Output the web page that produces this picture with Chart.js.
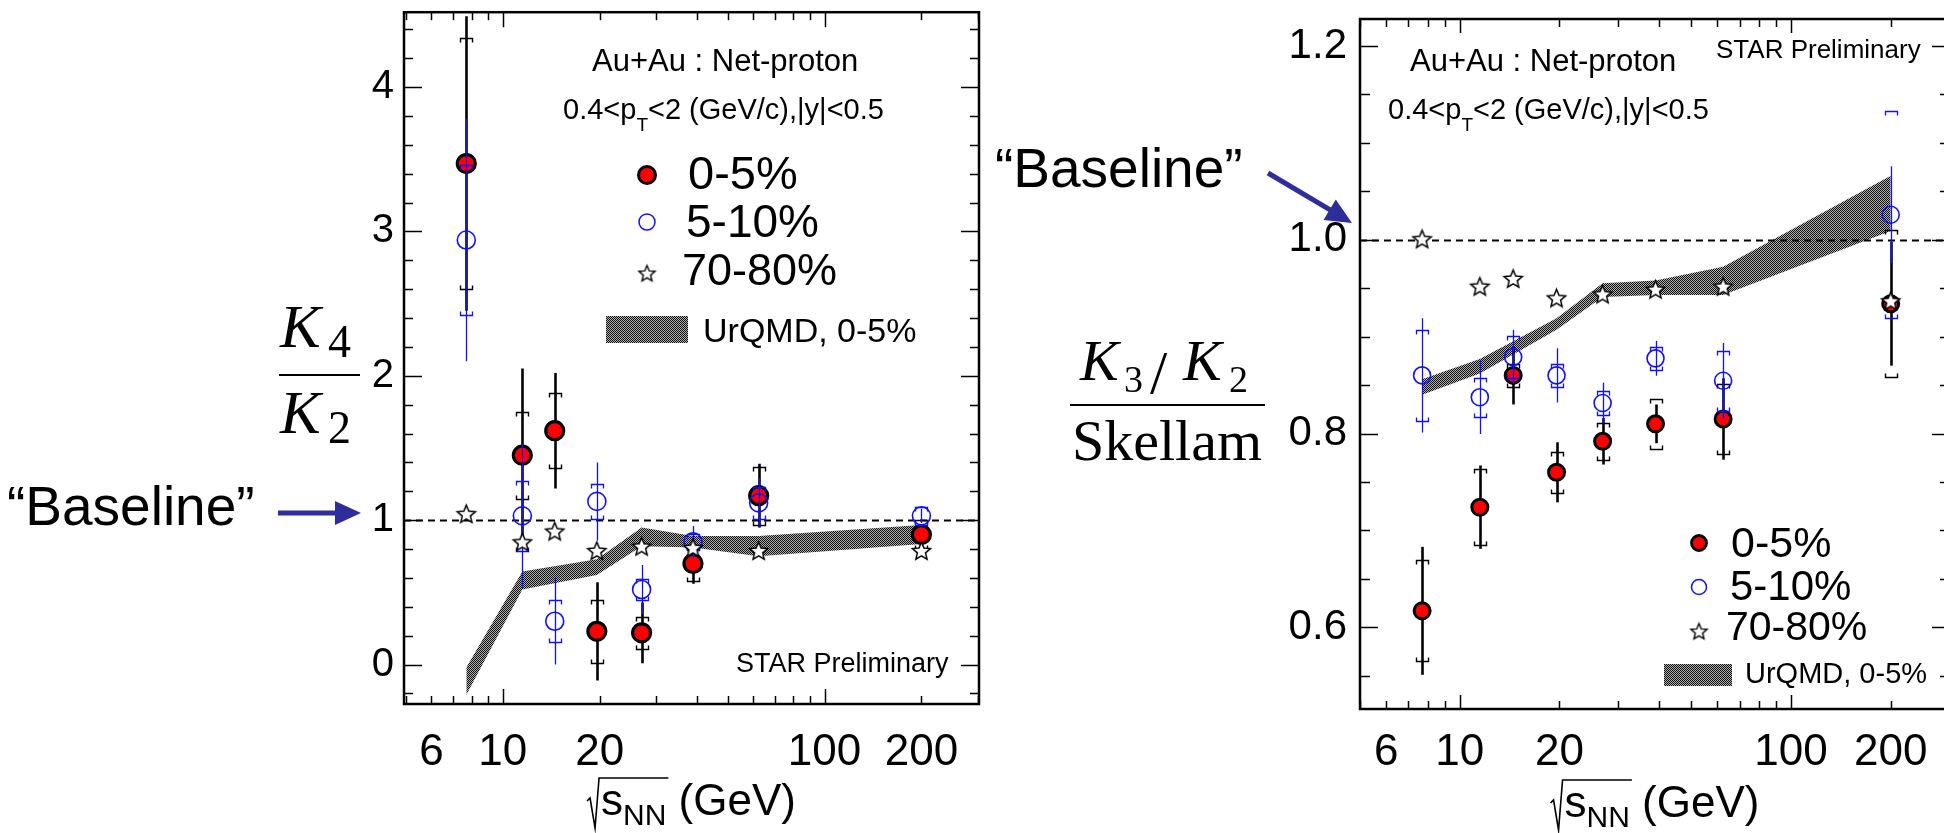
<!DOCTYPE html>
<html><head><meta charset="utf-8">
<script src="https://cdn.jsdelivr.net/npm/chart.js@4.4.1/dist/chart.umd.min.js"></script>
<style>
html,body{margin:0;padding:0;background:#fff;overflow:hidden;width:1944px;height:833px;position:relative;}
canvas{position:absolute;top:0;}
#c1{left:0;width:1000px;height:833px;}
#c2{left:960px;width:1010px;height:833px;}
</style></head><body>
<canvas id="c1" width="1000" height="833"></canvas>
<canvas id="c2" width="1010" height="833"></canvas>
<script>
// ---------------- data ----------------
const energies = [7.7, 11.5, 14.5, 19.6, 27, 39, 62.4, 200];
const xTickLabels = [6, 10, 20, 100, 200];

// K4/K2 panel
const k4Ticks = [0, 1, 2, 3, 4];
const k4C05 = [3.47, 1.45, 1.62, 0.23, 0.22, 0.70, 1.17, 0.90];
const k4C05Stat = [1.02, 0.60, 0.40, 0.34, 0.21, 0.14, 0.22, 0.07];
const k4C05Sys = [0.87, 0.30, 0.26, 0.22, 0.11, 0.12, 0.20, 0.10];
const k4C510 = [2.94, 1.03, 0.30, 1.13, 0.52, 0.85, 1.12, 1.03];
const k4C510Stat = [0.84, 0.50, 0.30, 0.27, 0.17, 0.11, 0.17, 0.05];
const k4C510Sys = [0.52, 0.24, 0.145, 0.12, 0.075, 0.055, 0.11, 0.06];
const k4C7080 = [1.045, 0.85, 0.925, 0.79, 0.82, 0.81, 0.79, 0.79];
const urqmdEnergies = [7.7, 11.5, 19.6, 27, 39, 62.4, 200];
const k4UrqmdLow = [-0.21, 0.52, 0.62, 0.82, 0.81, 0.75, 0.835];
const k4UrqmdHigh = [-0.02, 0.645, 0.73, 0.95, 0.89, 0.89, 0.967];

// K3/K2/Skellam panel
const k3Ticks = [0.6, 0.8, 1.0, 1.2];
const k3C05 = [0.617, 0.724, 0.860, 0.760, 0.792, 0.810, 0.815, 0.934];
const k3C05Stat = [0.066, 0.043, 0.03, 0.031, 0.024, 0.02, 0.042, 0.064];
const k3C05Sys = [0.052, 0.039, 0.012, 0.021, 0.019, 0.026, 0.036, 0.076];
const k3C510 = [0.860, 0.8375, 0.879, 0.860, 0.8315, 0.8776, 0.8545, 1.0258];
const k3C510Stat = [0.059, 0.038, 0.028, 0.028, 0.021, 0.018, 0.039, 0.05];
const k3C510Sys = [0.047, 0.02, 0.022, 0.012, 0.012, 0.012, 0.031, 0.107];
const k3C7080 = [1.001, 0.952, 0.960, 0.940, 0.944, 0.949, 0.952, 0.937];
const k3UrqmdLow = [0.840, 0.862, 0.907, 0.941, 0.943, 0.943, 1.009];
const k3UrqmdHigh = [0.856, 0.877, 0.919, 0.955, 0.958, 0.972, 1.066];

const baselineValue = 1;

// ---------------- styling helpers ----------------
const SANS = '"Liberation Sans", Arial, Helvetica, sans-serif';
const SERIF = '"Liberation Serif", "Times New Roman", serif';
Chart.defaults.font.family = SANS;
Chart.defaults.color = '#000';
const RED = '#ff0000', BLUE = '#1010ff', ARROW = '#2d2d9c';

function makeStar(r, lw) {
  const s = Math.ceil(r * 2 + 4);
  const c = document.createElement('canvas');
  c.width = s; c.height = s;
  const g = c.getContext('2d');
  g.beginPath();
  for (let k = 0; k < 10; k++) {
    const ang = -Math.PI / 2 + k * Math.PI / 5;
    const rr = k % 2 === 0 ? r : r * 0.45;
    const px = s / 2 + rr * Math.cos(ang), py = s / 2 + 1 + rr * Math.sin(ang);
    if (k === 0) g.moveTo(px, py); else g.lineTo(px, py);
  }
  g.closePath();
  g.fillStyle = '#fff'; g.fill();
  g.lineWidth = lw; g.strokeStyle = '#000'; g.stroke();
  return c;
}
function makePattern() {
  const c = document.createElement('canvas');
  c.width = 2; c.height = 2;
  const g = c.getContext('2d');
  g.fillStyle = '#b0b0b0'; g.fillRect(0, 0, 2, 2);
  g.fillStyle = '#101010'; g.fillRect(0, 0, 1, 1); g.fillRect(1, 1, 1, 1);
  return g.createPattern(c, 'repeat');
}
const starImg = makeStar(9.5, 1.5);
const starImgSmall = makeStar(8.5, 1.4);
const bandPattern = makePattern();

// ---------------- plugins ----------------
const errorBars = {
  id: 'errorBars',
  beforeDatasetDraw(chart, args) {
    const ds = chart.data.datasets[args.index];
    if (!ds.errStat && !ds.errSys) return;
    const ctx = chart.ctx, a = chart.chartArea, xs = chart.scales.x, ys = chart.scales.y;
    ctx.save();
    ctx.beginPath(); ctx.rect(a.left, a.top, a.right - a.left, a.bottom - a.top); ctx.clip();
    ctx.strokeStyle = ds.errColor;
    ds.data.forEach((p, i) => {
      const px = Math.round(xs.getPixelForValue(p.x)) + 0.5;
      const e = ds.errStat[i];
      ctx.lineWidth = ds.errWidth;
      ctx.beginPath();
      ctx.moveTo(px, ys.getPixelForValue(p.y + e));
      ctx.lineTo(px, ys.getPixelForValue(p.y - e));
      ctx.stroke();
      const s = ds.errSys[i];
      const yt = Math.round(ys.getPixelForValue(p.y + s)) + 0.5;
      const yb = Math.round(ys.getPixelForValue(p.y - s)) + 0.5;
      ctx.lineWidth = ds.capWidth;
      ctx.beginPath();
      ctx.moveTo(px - 6, yt + 4); ctx.lineTo(px - 6, yt); ctx.lineTo(px + 6, yt); ctx.lineTo(px + 6, yt + 4);
      ctx.moveTo(px - 6, yb - 4); ctx.lineTo(px - 6, yb); ctx.lineTo(px + 6, yb); ctx.lineTo(px + 6, yb - 4);
      ctx.stroke();
    });
    ctx.restore();
  },
  afterDatasetDraw(chart, args) {
    const ds = chart.data.datasets[args.index];
    if (!ds.bandTop) return;
    const ctx = chart.ctx, a = chart.chartArea;
    const py = Math.round(chart.scales.y.getPixelForValue(baselineValue)) + 0.5;
    ctx.save();
    ctx.strokeStyle = '#000'; ctx.lineWidth = 2.2; ctx.setLineDash([7, 5]);
    ctx.beginPath(); ctx.moveTo(a.left, py); ctx.lineTo(a.right, py); ctx.stroke();
    ctx.restore();
  }
};

function makeFrame(o) {
  return {
    id: 'frameTicks',
    afterDatasetsDraw(chart) {
      const ctx = chart.ctx, a = chart.chartArea, x = chart.scales.x, y = chart.scales.y;
      ctx.save();
      ctx.strokeStyle = '#000'; ctx.lineWidth = 1.5;
      const ln = (x1, y1, x2, y2) => { ctx.beginPath(); ctx.moveTo(x1, y1); ctx.lineTo(x2, y2); ctx.stroke(); };
      const k0 = Math.ceil((y.min - 1e-9) / o.yMinorStep);
      for (let k = k0; k * o.yMinorStep <= y.max + 1e-9; k++) {
        const v = k * o.yMinorStep;
        const r = v / o.yMajorStep;
        const maj = Math.abs(r - Math.round(r)) < 1e-6;
        const len = maj ? o.yMajorLen : o.yMinorLen;
        const py = Math.round(y.getPixelForValue(v)) + 0.5;
        ln(a.left, py, a.left + len, py);
        ln(a.right, py, a.right - len, py);
      }
      for (let d = Math.floor(Math.log10(x.min)); d <= Math.ceil(Math.log10(x.max)); d++) {
        for (let m = 1; m <= 9; m++) {
          const v = m * Math.pow(10, d);
          if (v < x.min || v > x.max) continue;
          const len = m === 1 ? o.xMajorLen : o.xMinorLen;
          const px = Math.round(x.getPixelForValue(v)) + 0.5;
          ln(px, a.bottom, px, a.bottom - len);
          ln(px, a.top, px, a.top + len);
        }
      }
      ctx.lineWidth = 2.5;
      ctx.strokeRect(a.left, a.top, a.right - a.left, a.bottom - a.top);
      ctx.restore();
    }
  };
}

function drawArrow(ctx, x1, y1, x2, y2, w, head, hw) {
  const dx = x2 - x1, dy = y2 - y1, L = Math.hypot(dx, dy), ux = dx / L, uy = dy / L;
  const bx = x2 - ux * head, by = y2 - uy * head;
  ctx.save();
  ctx.strokeStyle = ARROW; ctx.fillStyle = ARROW; ctx.lineWidth = w;
  ctx.beginPath(); ctx.moveTo(x1, y1); ctx.lineTo(bx + ux * 2, by + uy * 2); ctx.stroke();
  ctx.beginPath(); ctx.moveTo(x2, y2);
  ctx.lineTo(bx - uy * hw, by + ux * hw); ctx.lineTo(bx + uy * hw, by - ux * hw);
  ctx.closePath(); ctx.fill();
  ctx.restore();
}

function drawXTitle(ctx, cx, by) {
  const f1 = '44px ' + SANS, f2 = '30px ' + SANS;
  ctx.font = f1; const ws = ctx.measureText('s').width; const wg = ctx.measureText(' (GeV)').width;
  ctx.font = f2; const wn = ctx.measureText('NN').width;
  const rw = 14, total = rw + ws + wn + wg;
  const x0 = cx - total / 2;
  ctx.save();
  ctx.strokeStyle = '#000'; ctx.lineWidth = 1.6;
  ctx.beginPath();
  ctx.moveTo(x0, by - 14); ctx.lineTo(x0 + 3, by - 17); ctx.lineTo(x0 + 8, by + 13);
  ctx.lineTo(x0 + 12, by - 37); ctx.lineTo(x0 + rw + ws + wn + 2, by - 37);
  ctx.stroke();
  ctx.restore();
  ctx.font = f1; ctx.fillText('s', x0 + rw, by);
  ctx.font = f2; ctx.fillText('NN', x0 + rw + ws, by + 10);
  ctx.font = f1; ctx.fillText(' (GeV)', x0 + rw + ws + wn, by);
}

function makeAnnot(offsetX, ops) {
  return {
    id: 'annot',
    afterDraw(chart) {
      const ctx = chart.ctx;
      ctx.save();
      ctx.translate(-offsetX, 0);
      ctx.fillStyle = '#000'; ctx.textBaseline = 'alphabetic'; ctx.textAlign = 'left';
      for (const op of ops) {
        if (op.k === 'text') {
          ctx.font = (op.style || '') + ' ' + op.size + 'px ' + (op.serif ? SERIF : SANS);
          ctx.fillText(op.t, op.x, op.y);
        } else if (op.k === 'segs') {
          let x = op.x;
          for (const [t, size, dy] of op.segs) {
            ctx.font = size + 'px ' + SANS;
            ctx.fillText(t, x, op.y + dy);
            x += ctx.measureText(t).width;
          }
        } else if (op.k === 'line') {
          ctx.save(); ctx.strokeStyle = '#000'; ctx.lineWidth = op.w;
          ctx.beginPath(); ctx.moveTo(op.x1, op.y); ctx.lineTo(op.x2, op.y); ctx.stroke(); ctx.restore();
        } else if (op.k === 'red') {
          ctx.save(); ctx.beginPath(); ctx.arc(op.x, op.y, op.r, 0, Math.PI * 2);
          ctx.fillStyle = RED; ctx.fill(); ctx.lineWidth = op.bw; ctx.strokeStyle = '#000'; ctx.stroke(); ctx.restore();
        } else if (op.k === 'blue') {
          ctx.save(); ctx.beginPath(); ctx.arc(op.x, op.y, op.r, 0, Math.PI * 2);
          ctx.lineWidth = 1.5; ctx.strokeStyle = BLUE; ctx.stroke(); ctx.restore();
        } else if (op.k === 'star') {
          const img = op.small ? starImgSmall : starImg;
          ctx.drawImage(img, op.x - img.width / 2, op.y - img.height / 2);
        } else if (op.k === 'swatch') {
          ctx.save(); ctx.fillStyle = bandPattern; ctx.fillRect(op.x, op.y, op.w, op.h); ctx.restore();
        } else if (op.k === 'arrow') {
          drawArrow(ctx, op.x1, op.y1, op.x2, op.y2, op.w, op.head, op.hw);
        } else if (op.k === 'xtitle') {
          drawXTitle(ctx, op.cx, op.y);
        }
      }
      ctx.restore();
    }
  };
}

// ---------------- chart builder ----------------
function pts(xs, ys) { return xs.map((x, i) => ({ x: x, y: ys[i] })); }
function noPad(s) { s.paddingTop = 0; s.paddingBottom = 0; s.paddingLeft = 0; s.paddingRight = 0; }

function buildChart(id, p) {
  return new Chart(document.getElementById(id), {
    type: 'line',
    data: {
      datasets: [
        { label: 'UrQMD low', data: pts(urqmdEnergies, p.bandLow), pointRadius: 0, borderWidth: 0,
          borderColor: 'rgba(0,0,0,0)', fill: false, tension: 0, order: 20 },
        { label: 'UrQMD, 0-5%', data: pts(urqmdEnergies, p.bandHigh), pointRadius: 0, borderWidth: 0,
          borderColor: 'rgba(0,0,0,0)', fill: '-1', backgroundColor: bandPattern, tension: 0, order: 19, bandTop: true },
        { label: '0-5%', data: pts(energies, p.c05), showLine: false, pointStyle: 'circle',
          pointRadius: p.redR, pointBackgroundColor: RED, pointBorderColor: '#000', pointBorderWidth: p.redBW,
          errStat: p.c05Stat, errSys: p.c05Sys, errColor: '#000', errWidth: 2.6, capWidth: 1.4, order: 3 },
        { label: '5-10%', data: pts(energies, p.c510), showLine: false, pointStyle: 'circle',
          pointRadius: p.blueR, pointBackgroundColor: 'rgba(0,0,0,0)', pointBorderColor: BLUE, pointBorderWidth: 1.6,
          errStat: p.c510Stat, errSys: p.c510Sys, errColor: BLUE, errWidth: 1.3, capWidth: 1.3, order: 2 },
        { label: '70-80%', data: pts(energies, p.c7080), showLine: false, pointStyle: starImg,
          pointRadius: 9, order: 1 }
      ]
    },
    options: {
      responsive: false, animation: false, devicePixelRatio: 1, events: [],
      layout: { padding: { left: 0, right: p.padRight, top: p.padTop, bottom: 0 } },
      plugins: { legend: { display: false }, tooltip: { enabled: false } },
      scales: {
        x: {
          type: 'logarithmic', min: p.xMin, max: p.xMax, bounds: 'data',
          grid: { display: false, drawTicks: false }, border: { display: false },
          afterBuildTicks: s => { s.ticks = xTickLabels.map(v => ({ value: v })); },
          afterFit: s => { s.height = p.xAxisH; noPad(s); },
          ticks: { autoSkip: false, maxRotation: 0, minRotation: 0, padding: p.xPad, color: '#000',
                   font: { size: 44, family: SANS }, callback: v => String(v) }
        },
        y: {
          type: 'linear', min: p.yMin, max: p.yMax, bounds: 'data',
          grid: { display: false, drawTicks: false }, border: { display: false },
          afterBuildTicks: s => { s.ticks = p.yTicks.map(v => ({ value: v })); },
          afterFit: s => { s.width = p.yAxisW; noPad(s); },
          ticks: { padding: p.yPad, color: '#000', font: { size: p.yFont, family: SANS }, callback: p.yFmt }
        }
      }
    },
    plugins: [errorBars, makeFrame(p.frame), makeAnnot(p.offsetX, p.ops)]
  });
}

// ---------------- left panel ----------------
buildChart('c1', {
  bandLow: k4UrqmdLow, bandHigh: k4UrqmdHigh,
  c05: k4C05, c05Stat: k4C05Stat, c05Sys: k4C05Sys,
  c510: k4C510, c510Stat: k4C510Stat, c510Sys: k4C510Sys,
  c7080: k4C7080, redR: 9, redBW: 3.2, blueR: 9,
  xMin: 4.93, xMax: 302, yMin: -0.273, yMax: 4.518, yTicks: k4Ticks,
  yFmt: v => String(v), yFont: 40, yPad: 10, xPad: 22,
  padRight: 21, padTop: 12, xAxisH: 129, yAxisW: 404,
  frame: { yMinorStep: 0.2, yMajorStep: 1, yMajorLen: 18, yMinorLen: 9, xMajorLen: 15, xMinorLen: 8 },
  offsetX: 0,
  ops: [
    { k: 'text', t: 'Au+Au : Net-proton', x: 592, y: 71, size: 31 },
    { k: 'segs', x: 563, y: 119, segs: [['0.4<p', 29, 0], ['T', 19, 12], ['<2 (GeV/c),|y|<0.5', 29, 0]] },
    { k: 'red', x: 647, y: 175, r: 8.5, bw: 3 },
    { k: 'text', t: '0-5%', x: 688, y: 189, size: 47 },
    { k: 'blue', x: 647, y: 222, r: 8 },
    { k: 'text', t: '5-10%', x: 686, y: 237, size: 46 },
    { k: 'star', x: 647, y: 273, small: true },
    { k: 'text', t: '70-80%', x: 682, y: 285, size: 45 },
    { k: 'swatch', x: 606, y: 316, w: 82, h: 27 },
    { k: 'text', t: 'UrQMD, 0-5%', x: 703, y: 342, size: 34 },
    { k: 'text', t: 'STAR Preliminary', x: 736, y: 672, size: 27 },
    // y title K4/K2
    { k: 'text', t: 'K', x: 280, y: 347, size: 61, serif: true, style: 'italic' },
    { k: 'text', t: '4', x: 328, y: 357, size: 46, serif: true },
    { k: 'line', x1: 279, x2: 360, y: 375, w: 2.2 },
    { k: 'text', t: 'K', x: 280, y: 433, size: 61, serif: true, style: 'italic' },
    { k: 'text', t: '2', x: 328, y: 443, size: 46, serif: true },
    // baseline label + arrow
    { k: 'text', t: '\u201CBaseline\u201D', x: 7, y: 525, size: 55 },
    { k: 'arrow', x1: 278, y1: 513, x2: 361, y2: 513, w: 5, head: 26, hw: 12 },
    { k: 'xtitle', cx: 691.5, y: 815 }
  ]
});

// ---------------- right panel ----------------
buildChart('c2', {
  bandLow: k3UrqmdLow, bandHigh: k3UrqmdHigh,
  c05: k3C05, c05Stat: k3C05Stat, c05Sys: k3C05Sys,
  c510: k3C510, c510Stat: k3C510Stat, c510Sys: k3C510Sys,
  c7080: k3C7080, redR: 8, redBW: 3, blueR: 8.5,
  xMin: 5.0, xMax: 302, yMin: 0.5157, yMax: 1.2278, yTicks: k3Ticks,
  yFmt: v => v.toFixed(1), yFont: 42, yPad: 13, xPad: 17,
  padRight: 20, padTop: 19, xAxisH: 124, yAxisW: 400,
  frame: { yMinorStep: 0.05, yMajorStep: 0.2, yMajorLen: 18, yMinorLen: 10, xMajorLen: 14, xMinorLen: 8 },
  offsetX: 960,
  ops: [
    { k: 'text', t: 'Au+Au : Net-proton', x: 1410, y: 71, size: 31 },
    { k: 'segs', x: 1388, y: 119, segs: [['0.4<p', 29, 0], ['T', 19, 12], ['<2 (GeV/c),|y|<0.5', 29, 0]] },
    { k: 'text', t: 'STAR Preliminary', x: 1716, y: 58, size: 26 },
    { k: 'red', x: 1699, y: 543, r: 7.5, bw: 2.8 },
    { k: 'text', t: '0-5%', x: 1731, y: 557, size: 43 },
    { k: 'blue', x: 1699, y: 587, r: 7.5 },
    { k: 'text', t: '5-10%', x: 1730, y: 600, size: 42 },
    { k: 'star', x: 1699, y: 631, small: true },
    { k: 'text', t: '70-80%', x: 1726, y: 640, size: 41 },
    { k: 'swatch', x: 1664, y: 664, w: 68, h: 22 },
    { k: 'text', t: 'UrQMD, 0-5%', x: 1745, y: 683, size: 29 },
    // y title K3/K2 / Skellam
    { k: 'text', t: 'K', x: 1080, y: 380, size: 58, serif: true, style: 'italic' },
    { k: 'text', t: '3', x: 1124, y: 392, size: 38, serif: true },
    { k: 'text', t: '/', x: 1150, y: 393, size: 62, serif: true },
    { k: 'text', t: 'K', x: 1183, y: 380, size: 58, serif: true, style: 'italic' },
    { k: 'text', t: '2', x: 1229, y: 392, size: 38, serif: true },
    { k: 'line', x1: 1070, x2: 1265, y: 405, w: 2.2 },
    { k: 'text', t: 'Skellam', x: 1072, y: 460, size: 58, serif: true },
    // baseline label + arrow
    { k: 'text', t: '\u201CBaseline\u201D', x: 995, y: 187, size: 55 },
    { k: 'arrow', x1: 1268, y1: 173, x2: 1352, y2: 223, w: 5, head: 26, hw: 12 },
    { k: 'xtitle', cx: 1655, y: 817 }
  ]
});
</script>
</body></html>
